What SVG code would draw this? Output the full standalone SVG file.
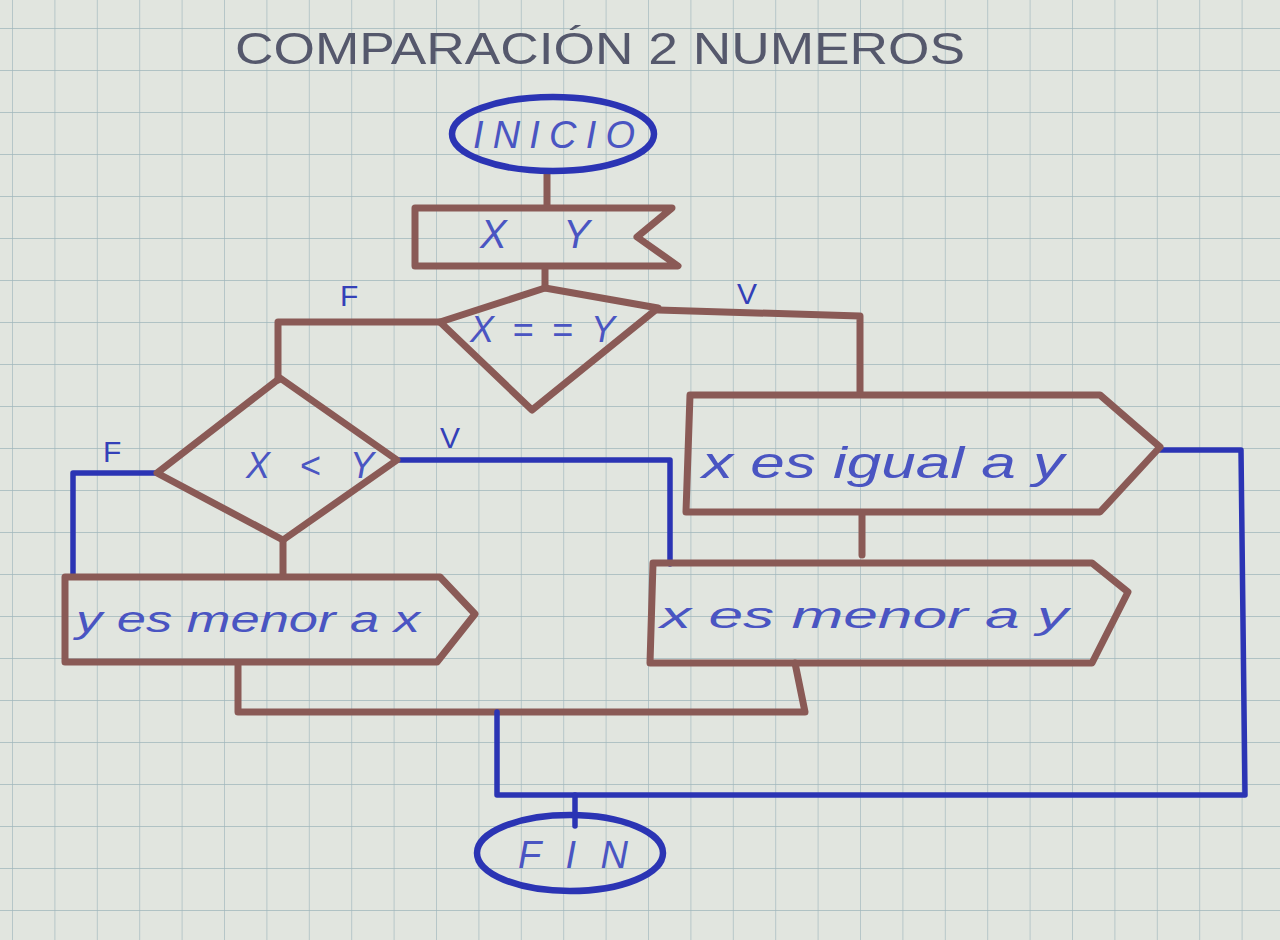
<svg xmlns="http://www.w3.org/2000/svg" width="1280" height="940" viewBox="0 0 1280 940">
<defs>
<pattern id="grid" x="12" y="28" width="42.4" height="42" patternUnits="userSpaceOnUse">
<path d="M0 0 H42.4 M0 0 V42" fill="none" stroke="#9fb6bc" stroke-width="1.3"/>
</pattern>
<style>
.br{fill:none;stroke:#8a5a56;stroke-width:7;stroke-linejoin:round;stroke-linecap:round}
.bl{fill:none;stroke:#2b34b4;stroke-width:5.5;stroke-linejoin:round;stroke-linecap:round}
.tx{font-family:"Liberation Sans",Arial,sans-serif;fill:#4a55c2;font-style:italic}
.lb{font-family:"Liberation Sans",Arial,sans-serif;fill:#3340b8;font-size:30px}
</style>
</defs>
<rect width="1280" height="940" fill="#e1e5df"/>
<rect width="1280" height="940" fill="url(#grid)"/>
<text x="235" y="64" font-family="Liberation Sans, Arial, sans-serif" font-size="44" fill="#55586c" textLength="730" lengthAdjust="spacingAndGlyphs">COMPARACIÓN 2 NUMEROS</text>

<g id="connectors">
<path class="br" d="M547 172 V206"/>
<path class="br" d="M545 268 V288"/>
<path class="br" d="M440 322 H278 V380"/>
<path class="br" d="M658 310 L860 316 V392"/>
<path class="br" d="M862 514 V555"/>
<path class="br" d="M283 540 V575"/>
<path class="br" d="M238 664 V712 H805 L795 663"/>
<path class="bl" d="M157 473 H73 V575"/>
<path class="bl" d="M397 460 H670 V564"/>
<path class="bl" d="M497 712 V795 H1245 L1241 450 H1160"/>
<path class="bl" d="M575 795 V826"/>
<text class="lb" x="340" y="306">F</text>
<text class="lb" x="737" y="304">V</text>
<text class="lb" x="103" y="462">F</text>
<text class="lb" x="440" y="448">V</text>
</g>

<g id="inicio">
<ellipse cx="553" cy="134" rx="101" ry="37" fill="none" stroke="#2b34b4" stroke-width="6.5"/>
<text class="tx" x="473" y="148" font-size="38" textLength="162" lengthAdjust="spacing">INICIO</text>
</g>

<g id="entrada">
<path class="br" d="M415 208 H672 L637 237 L678 266 H415 Z"/>
<text class="tx" x="480" y="248" font-size="40" textLength="110" lengthAdjust="spacing">X Y</text>
</g>

<g id="decision1">
<path class="br" d="M545 288 L658 308 L532 410 L440 322 Z"/>
<text class="tx" x="470" y="342" font-size="36" textLength="145" lengthAdjust="spacing">X==Y</text>
</g>

<g id="igual">
<path class="br" d="M690 395 H1100 L1160 447 L1100 512 H686 Z"/>
<text class="tx" x="702" y="478" font-size="44" textLength="362" lengthAdjust="spacingAndGlyphs">x es igual a y</text>
</g>

<g id="decision2">
<path class="br" d="M280 378 L397 460 L283 540 L157 473 Z"/>
<text class="tx" x="246" y="478" font-size="36" textLength="128" lengthAdjust="spacing">X&lt;Y</text>
</g>

<g id="menor_x">
<path class="br" d="M65 577 H440 L475 614 L437 662 H65 Z"/>
<text class="tx" x="76" y="632" font-size="36" textLength="344" lengthAdjust="spacingAndGlyphs">y es menor a x</text>
</g>

<g id="menor_y">
<path class="br" d="M653 563 H1092 L1128 592 L1092 663 H650 Z"/>
<text class="tx" x="660" y="628" font-size="36" textLength="408" lengthAdjust="spacingAndGlyphs">x es menor a y</text>
</g>

<g id="fin">
<ellipse cx="570" cy="853" rx="93" ry="38" fill="none" stroke="#2b34b4" stroke-width="6.5"/>
<text class="tx" x="518" y="868" font-size="38" textLength="110" lengthAdjust="spacing">FIN</text>
</g>
</svg>
